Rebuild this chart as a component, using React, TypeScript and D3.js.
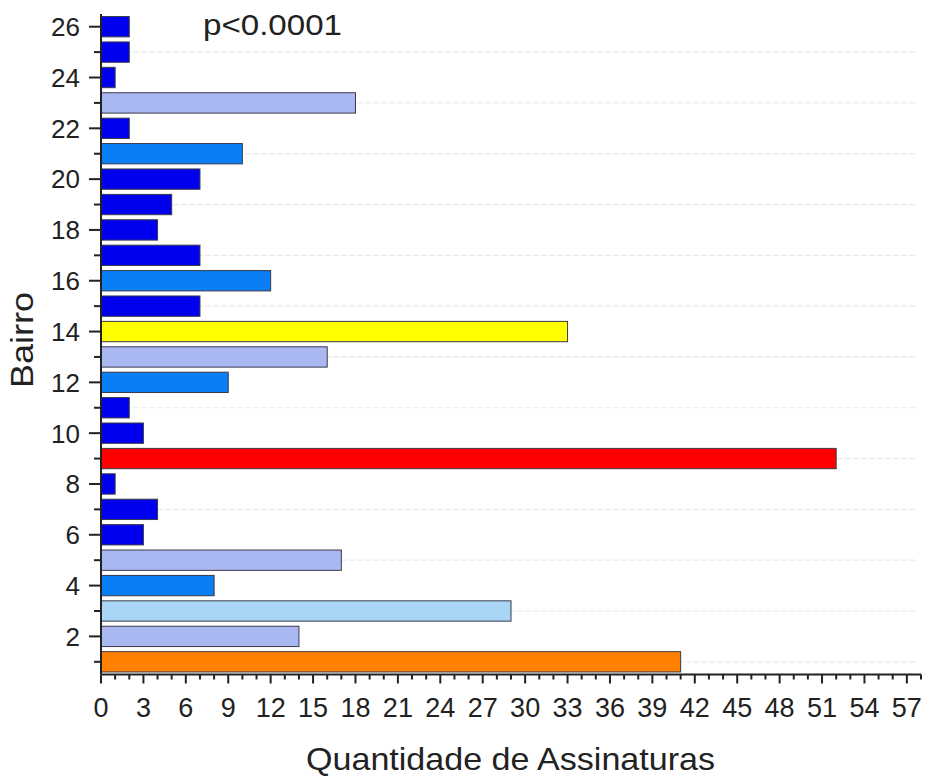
import React from 'react';
import * as d3 from 'd3';

// Bairro 1..26 and number of signatures
const bairros = d3.range(1, 27);
const assinaturas = [41, 14, 29, 8, 17, 3, 4, 1, 52, 3, 2, 9, 16, 33, 7, 12, 7, 4, 5, 7, 10, 2, 18, 1, 2, 2];
const cores = [
  '#ff8000', '#aab8f2', '#a9d5f7', '#0a7ff5', '#aab8f2', '#0000ee', '#0000ee', '#0000ee', '#ff0000', '#0000ee',
  '#0000ee', '#0a7ff5', '#aab8f2', '#ffff00', '#0000ee', '#0a7ff5', '#0000ee', '#0000ee', '#0000ee', '#0000ee',
  '#0a7ff5', '#0000ee', '#aab8f2', '#0000ee', '#0000ee', '#0000ee',
];
const xTicks = d3.range(0, 58, 3);
const yTicks = d3.range(2, 27, 2);

const W = 929;
const H = 778;
const FONT = 'Liberation Sans, Arial, sans-serif';

export default function App() {
  const x = d3.scaleLinear().domain([0, 58]).range([101, 921]);
  const y = d3.scaleLinear().domain([0.5, 26.5]).range([674.5, 14]);
  const step = Math.abs(y(1) - y(2));
  const barH = step * 0.8;
  const x0 = x(0);
  const yBase = y(0.5);

  return (
    <svg width={W} height={H} style={{ position: 'absolute', left: 0, top: 0, background: '#fff' }}>
      {/* faint grid at odd categories */}
      {bairros.filter(b => b % 2 === 1).map(b => (
        <line key={'g' + b} x1={x0} x2={915} y1={y(b)} y2={y(b)} stroke="#e9e9e9" strokeWidth={1.2} strokeDasharray="6 2" />
      ))}

      {/* bars */}
      {bairros.map((b, i) => (
        <rect
          key={'b' + b}
          x={x0}
          y={y(b) - barH / 2}
          width={x(assinaturas[i]) - x0}
          height={barH}
          fill={cores[i]}
          stroke="#3a3a4a"
          strokeWidth={1}
        />
      ))}

      {/* y axis */}
      <line x1={x0} x2={x0} y1={y(26.5)} y2={yBase} stroke="#222" strokeWidth={2} />
      {bairros.map(b => (
        <line key={'yt' + b} x1={x0} x2={x0 - (b % 2 === 0 ? 12 : 7)} y1={y(b)} y2={y(b)} stroke="#222" strokeWidth={2} />
      ))}
      {yTicks.map(t => (
        <text key={'yl' + t} x={80} y={y(t)} dy="0.36em" textAnchor="end" fontFamily={FONT} fontSize={26} fill="#222">
          {t}
        </text>
      ))}

      {/* x axis */}
      <line x1={x0} x2={x(58)} y1={yBase} y2={yBase} stroke="#222" strokeWidth={2} />
      {d3.range(0, 59).map(v => (
        <line key={'xt' + v} x1={x(v)} x2={x(v)} y1={yBase} y2={yBase + (v % 3 === 0 ? 9 : 5)} stroke="#222" strokeWidth={2} />
      ))}
      {xTicks.map(t => (
        <text key={'xl' + t} x={x(t)} y={717} textAnchor="middle" fontFamily={FONT} fontSize={27} fill="#222">
          {t}
        </text>
      ))}

      {/* titles */}
      <text x={306} y={770} textLength={409} lengthAdjust="spacingAndGlyphs" fontFamily={FONT} fontSize={32} fill="#222">
        Quantidade de Assinaturas
      </text>
      <text transform="translate(33, 388) rotate(-90)" textLength={96} lengthAdjust="spacingAndGlyphs" fontFamily={FONT} fontSize={32} fill="#222">
        Bairro
      </text>
      <text x={203} y={35} textLength={139} lengthAdjust="spacingAndGlyphs" fontFamily={FONT} fontSize={30} fill="#222">
        p&lt;0.0001
      </text>
    </svg>
  );
}
